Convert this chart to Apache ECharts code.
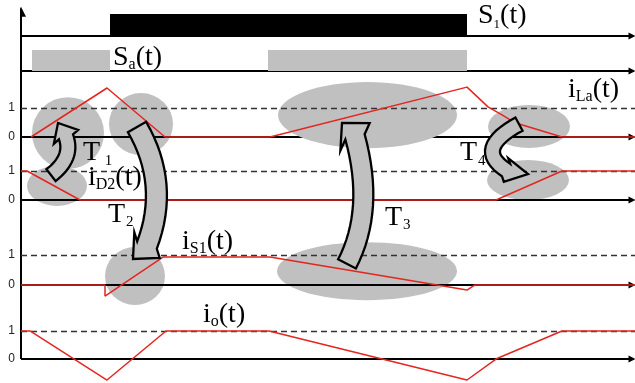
<!doctype html>
<html>
<head>
<meta charset="utf-8">
<title>Waveforms</title>
<script src="https://cdn.jsdelivr.net/npm/echarts@6/dist/echarts.min.js"></script>
<style>
	html, body { margin: 0; padding: 0; background: #fff; }
	#main { width: 635px; height: 383px; }
</style>
</head>
<body>
<div id="main"></div>
<script>
// time runs from 0 (vertical axis) to T_END
var T_END = 614;

// each row: [zero line, level "1"] on the shared vertical scale
var rowIo  = [0, 0.966];
var rowIs1 = [2.552, 3.586];
var rowId2 = [5.483, 6.483];
var rowILa = [7.655, 8.655];
var rowSa  = [9.93, 10.655];
var rowS1  = [11.138, 11.897];

// currents, per unit of their own row
var tLa = [10, 86, 144, 249, 446, 467, 481, 494, 541, 614];
var vLa = [0, 1.69, 0, 0, 1.72, 1.04, 0.76, 0.49, 0, 0];
var tD2 = [0, 6, 59, 475, 541, 614];
var vD2 = [1, 1, 0, 0, 1, 1];
var tS1 = [0, 84, 84, 142, 249, 446, 454, 614];
var vS1 = [0, 0, -0.37, 0.93, 0.93, -0.17, 0, 0];
var tIo = [0, 9, 86, 145, 248, 446, 476, 541, 614];
var vIo = [1, 1, -0.75, 1, 1, -0.75, 0.02, 1, 1];

// gate signals, on intervals [start, end]
var s1On = [[89, 446]];
var saOn = [[11, 89], [247, 446]];

// shaded regions: [t, level, half width (t), half height (level)]
var blobsBack = [
	[47, 7.79, 36, 1.24],
	[120, 8.10, 32, 1.07],
	[36, 5.97, 30, 0.69],
	[508, 8.02, 41, 0.74],
	[507, 6.17, 41, 0.69],
	[114, 2.86, 30, 1.0],
	[346, 3.03, 90, 1.0]
];
var blobsFront = [[346.5, 8.41, 89.5, 1.14]];

// transition arrows: tail, middle, end, tip (t, level)
var arrows = [
	[[30, 6.34], [45, 6.97], [45, 7.66], [37, 8.14]],
	[[116, 8.0], [135, 6.0], [126, 3.93], [112, 3.45]],
	[[326, 3.28], [342, 5.31], [334, 7.66], [321, 8.14]],
	[[498, 8.10], [472, 7.28], [485, 6.52], [507, 6.38]]
];
var arrowW = [15, 21, 20, 15];
var arrowHead = [14, 18, 20, 12];

// labels: text, t, level
var labels = [
	['{m|S}{s1|1}{m|(t)}', 457, 11.83],
	['{m|S}{s|a}{m|(t)}', 92, 10.38],
	['{m|i}{s|La}{m|(t)}', 547, 9.28],
	['{m|T}{d| 1}', 62, 7.10],
	['{m|i}{s|D2}{m|(t)}', 67, 6.24],
	['{m|T}{d|2}', 87, 4.97],
	['{m|i}{s|S1}{m|(t)}', 161, 4.03],
	['{m|T}{d|3}', 364, 4.86],
	['{m|T}{d|4}', 439, 7.10],
	['{m|i}{s|o}{m|(t)}', 182, 1.52]
];

var RED = '#e3261f';
var GREY = '#c0c0c0';
var SERIF = 'Liberation Serif';

function trace(t, v, row) {
	var out = [];
	for (var i = 0; i < t.length; i++) out.push([t[i], row[0] + v[i] * (row[1] - row[0])]);
	return out;
}

var rows = [rowIo, rowIs1, rowId2, rowILa];
var tickVals = [], tickText = {};
rows.forEach(function (r) {
	tickVals.push(r[0], r[1]);
	tickText[r[0]] = '0';
	tickText[r[1]] = '1';
});

function blobItem(params, api) {
	var c = api.coord([api.value(0), api.value(1)]);
	var s = api.size([api.value(2), api.value(3)]);
	return {
		type: 'circle', x: c[0], y: c[1], scaleX: s[0], scaleY: s[1],
		shape: { cx: 0, cy: 0, r: 1 },
		style: { fill: GREY }
	};
}

function arrowItem(params, api) {
	var a = arrows[api.value(2)];
	var p0 = api.coord(a[0]), pm = api.coord(a[1]), p1 = api.coord(a[2]), tip = api.coord(a[3]);
	var w = arrowW[api.value(2)] / 2, hw = arrowHead[api.value(2)];
	var c = [2 * pm[0] - (p0[0] + p1[0]) / 2, 2 * pm[1] - (p0[1] + p1[1]) / 2];
	var left = [], right = [], N = 16;
	for (var i = 0; i <= N; i++) {
		var u = i / N;
		var x = (1 - u) * (1 - u) * p0[0] + 2 * u * (1 - u) * c[0] + u * u * p1[0];
		var y = (1 - u) * (1 - u) * p0[1] + 2 * u * (1 - u) * c[1] + u * u * p1[1];
		var dx = 2 * (1 - u) * (c[0] - p0[0]) + 2 * u * (p1[0] - c[0]);
		var dy = 2 * (1 - u) * (c[1] - p0[1]) + 2 * u * (p1[1] - c[1]);
		var l = Math.sqrt(dx * dx + dy * dy);
		var nx = -dy / l, ny = dx / l;
		left.push([x + nx * w, y + ny * w]);
		right.push([x - nx * w, y - ny * w]);
	}
	var hx = tip[0] - p1[0], hy = tip[1] - p1[1];
	var hl = Math.sqrt(hx * hx + hy * hy);
	var mx = -hy / hl, my = hx / hl;
	var pts = left.concat([[p1[0] + mx * hw, p1[1] + my * hw], tip, [p1[0] - mx * hw, p1[1] - my * hw]], right.reverse());
	return {
		type: 'polygon',
		shape: { points: pts },
		style: { fill: GREY, stroke: '#000', lineWidth: 2.3, lineJoin: 'miter' }
	};
}

function barItem(params, api) {
	var a = api.coord([api.value(0), api.value(3)]);
	var b = api.coord([api.value(1), api.value(2)]);
	return {
		type: 'rect',
		shape: { x: a[0], y: a[1], width: b[0] - a[0], height: b[1] - a[1] },
		style: { fill: api.visual('color') }
	};
}

function labelItem(params, api) {
	var lb = labels[api.value(2)];
	var p = api.coord([lb[1], lb[2]]);
	return {
		type: 'text', x: p[0], y: p[1],
		style: {
			text: lb[0], align: 'left', verticalAlign: 'middle', fill: '#000',
			rich: {
				m: { fontFamily: SERIF, fontSize: 28, lineHeight: 30, fill: '#000' },
				s: { fontFamily: SERIF, fontSize: 16, lineHeight: 20, verticalAlign: 'bottom', fill: '#000' },
				s1: { fontFamily: SERIF, fontSize: 13, lineHeight: 20, verticalAlign: 'bottom', fill: '#000' },
				d: { fontFamily: SERIF, fontSize: 15, lineHeight: 14, verticalAlign: 'bottom', fill: '#000', padding: [0, 0, 0, 1] }
			}
		}
	};
}

var myChart = echarts.init(document.getElementById('main'));

var baseLines = [rowIo, rowIs1, rowId2, rowILa, rowSa, rowS1].map(function (r) {
	return { coords: [[0, r[0]], [T_END - 3, r[0]]] };
});
var dashLines = rows.map(function (r) {
	return { coords: [[0, r[1]], [T_END, r[1]]] };
});

var option = {
	animation: false,
	grid: { left: 21, right: 0, top: 5.2, bottom: 0.8 },
	xAxis: {
		type: 'value', min: 0, max: T_END,
		axisLine: { show: false }, axisTick: { show: false }, axisLabel: { show: false }, splitLine: { show: false }
	},
	yAxis: {
		type: 'value', min: -0.8, max: 12.2,
		axisLine: { show: false }, axisTick: { show: false }, splitLine: { show: false },
		axisLabel: {
			customValues: tickVals,
			formatter: function (v) { return tickText[v]; },
			fontFamily: 'Liberation Sans', fontSize: 12, color: '#222', margin: 6
		}
	},
	series: [
		{ type: 'custom', renderItem: blobItem, data: blobsBack, z: 1, silent: true },
		{
			type: 'lines', coordinateSystem: 'cartesian2d', z: 2, silent: true,
			symbol: ['none', 'triangle'], symbolSize: 7,
			lineStyle: { color: '#000', width: 2, opacity: 1 },
			data: baseLines.concat([{ coords: [[0, 0], [0, 11.97]], symbolSize: 10 }])
		},
		{ type: 'custom', renderItem: blobItem, data: blobsFront, z: 3, silent: true },
		{
			type: 'lines', coordinateSystem: 'cartesian2d', z: 4, silent: true,
			lineStyle: { color: '#333', width: 1.4, type: [6, 4], opacity: 1 },
			data: dashLines
		},
		{
			type: 'custom', renderItem: barItem, z: 4, silent: true, itemStyle: { color: '#000' },
			data: s1On.map(function (d) { return [d[0], d[1], rowS1[0], rowS1[1]]; })
		},
		{
			type: 'custom', renderItem: barItem, z: 4, silent: true, itemStyle: { color: GREY },
			data: saOn.map(function (d) { return [d[0], d[1], rowSa[0], rowSa[1]]; })
		},
		{ type: 'line', data: trace(tLa, vLa, rowILa), showSymbol: false, z: 5, lineStyle: { color: RED, width: 1.5 } },
		{ type: 'line', data: trace(tD2, vD2, rowId2), showSymbol: false, z: 5, lineStyle: { color: RED, width: 1.5 } },
		{ type: 'line', data: trace(tS1, vS1, rowIs1), showSymbol: false, z: 5, lineStyle: { color: RED, width: 1.5 } },
		{ type: 'line', data: trace(tIo, vIo, rowIo), showSymbol: false, z: 5, lineStyle: { color: RED, width: 1.5 } },
		{
			type: 'custom', renderItem: arrowItem, z: 6, silent: true,
			data: arrows.map(function (a, i) { return [a[0][0], a[0][1], i]; })
		},
		{
			type: 'custom', renderItem: labelItem, z: 7, silent: true,
			data: labels.map(function (l, i) { return [l[1], l[2], i]; })
		}
	]
};
myChart.setOption(option);
</script>
</body>
</html>
